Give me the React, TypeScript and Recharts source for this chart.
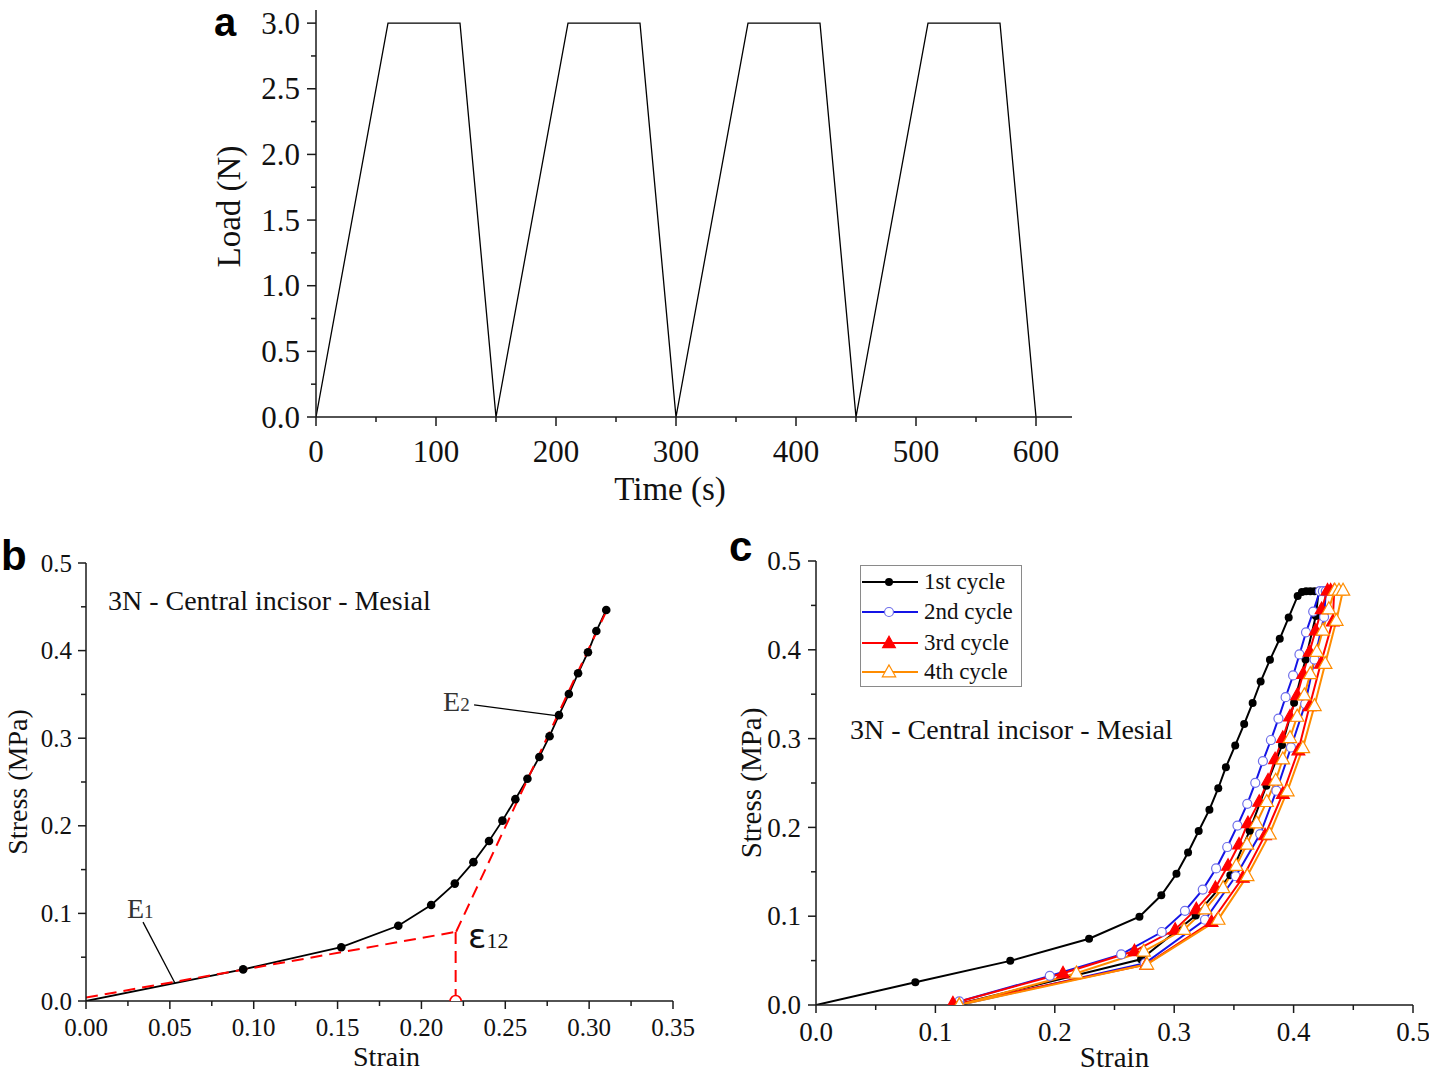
import React from 'react';
import { LineChart, Line, XAxis, YAxis, ReferenceDot } from 'recharts';

// ---------- Panel a : load protocol ----------
const loadTime = [0, 60, 120, 150, 210, 270, 300, 360, 420, 450, 510, 570, 600];
const loadValue = [0, 3, 3, 0, 3, 3, 0, 3, 3, 0, 3, 3, 0];
const aTicksX = [0, 50, 100, 150, 200, 250, 300, 350, 400, 450, 500, 550, 600];
const aMajorX = [0, 100, 200, 300, 400, 500, 600];
const aTicksY = [0, 0.25, 0.5, 0.75, 1, 1.25, 1.5, 1.75, 2, 2.25, 2.5, 2.75, 3];
const aMajorY = [0, 0.5, 1, 1.5, 2, 2.5, 3];

// ---------- Panel b : single cycle with bilinear fit ----------
const bStrain = [0, 0.0937, 0.1522, 0.1862, 0.2058, 0.2199, 0.231, 0.2403, 0.2483, 0.256, 0.2632, 0.2703, 0.2764, 0.282, 0.2879, 0.2934, 0.2993, 0.3043, 0.3102];
const bStress = [0, 0.0361, 0.0614, 0.0859, 0.1096, 0.134, 0.1585, 0.1826, 0.2059, 0.2304, 0.2537, 0.2786, 0.3023, 0.3263, 0.3504, 0.3741, 0.3982, 0.4223, 0.4464];
const e1Strain = [0, 0.2204];
const e1Stress = [0.0039, 0.0789];
const e2Strain = [0.2207, 0.3095];
const e2Stress = [0.079, 0.442];
const eps12Strain = [0.2204, 0.2204];
const eps12Stress = [0.0789, 0];
const e1LeaderStrain = [0.034, 0.053];
const e1LeaderStress = [0.09, 0.0205];
const e2LeaderStrain = [0.2314, 0.2826];
const e2LeaderStress = [0.338, 0.3253];
const bTicksX = [0, 0.025, 0.05, 0.075, 0.1, 0.125, 0.15, 0.175, 0.2, 0.225, 0.25, 0.275, 0.3, 0.325, 0.35];
const bMajorX = [0, 0.05, 0.1, 0.15, 0.2, 0.25, 0.3, 0.35];
const sTicksY = [0, 0.05, 0.1, 0.15, 0.2, 0.25, 0.3, 0.35, 0.4, 0.45, 0.5];
const sMajorY = [0, 0.1, 0.2, 0.3, 0.4, 0.5];

// ---------- Panel c : four cycles ----------
const cycleNames = ['1st cycle', '2nd cycle', '3rd cycle', '4th cycle'];
const cycleColors = ['#000000', '#1414e6', '#ff0000', '#ff8c00'];
const c1Strain = [0, 0.0832, 0.1627, 0.2287, 0.2709, 0.2892, 0.3019, 0.3116, 0.3205, 0.3295, 0.3369, 0.3433, 0.3511, 0.3586, 0.3657, 0.3724, 0.3802, 0.3884, 0.3959, 0.4034, 0.407, 0.4105, 0.414, 0.4175, 0.421, 0.4186, 0.41, 0.4004, 0.3903, 0.3772, 0.3632, 0.347, 0.318, 0.2722, 0.1167];
const c1Stress = [0, 0.0256, 0.0497, 0.0746, 0.0995, 0.1236, 0.1477, 0.1718, 0.1959, 0.22, 0.2441, 0.2678, 0.2923, 0.3164, 0.3401, 0.3642, 0.3887, 0.4124, 0.4365, 0.4606, 0.465, 0.466, 0.466, 0.466, 0.466, 0.438, 0.389, 0.3405, 0.2927, 0.247, 0.1963, 0.146, 0.1007, 0.0515, 0];
const c2Strain = [0.12, 0.1958, 0.2556, 0.2896, 0.309, 0.3239, 0.3351, 0.3444, 0.353, 0.3612, 0.3679, 0.3743, 0.381, 0.3873, 0.3933, 0.3996, 0.4049, 0.4104, 0.4164, 0.422, 0.4245, 0.427, 0.4255, 0.4175, 0.4097, 0.3978, 0.3856, 0.372, 0.3515, 0.3258, 0.2755, 0.12];
const c2Stress = [0.004, 0.0328, 0.057, 0.0822, 0.106, 0.13, 0.1538, 0.1779, 0.202, 0.2265, 0.2502, 0.2747, 0.2984, 0.3225, 0.3466, 0.3711, 0.3948, 0.4197, 0.443, 0.466, 0.466, 0.466, 0.437, 0.389, 0.339, 0.29, 0.2413, 0.1925, 0.145, 0.096, 0.047, 0];
const c3Strain = [0.1147, 0.2069, 0.2667, 0.3008, 0.3185, 0.3345, 0.3451, 0.3543, 0.3618, 0.3712, 0.3786, 0.3845, 0.391, 0.397, 0.403, 0.408, 0.4134, 0.4185, 0.4235, 0.4284, 0.431, 0.434, 0.4328, 0.4228, 0.4134, 0.404, 0.391, 0.3761, 0.3575, 0.3313, 0.2765, 0.1147];
const c3Stress = [0.002, 0.0358, 0.0608, 0.085, 0.108, 0.132, 0.157, 0.181, 0.205, 0.229, 0.253, 0.277, 0.301, 0.325, 0.349, 0.373, 0.398, 0.422, 0.446, 0.467, 0.467, 0.467, 0.432, 0.3845, 0.3366, 0.2869, 0.238, 0.1913, 0.1435, 0.0937, 0.0455, 0];
const c4Strain = [0.12, 0.2181, 0.2745, 0.3083, 0.326, 0.341, 0.352, 0.361, 0.369, 0.3775, 0.385, 0.391, 0.397, 0.403, 0.409, 0.414, 0.4195, 0.4245, 0.4295, 0.4345, 0.438, 0.4414, 0.4358, 0.4265, 0.4175, 0.4078, 0.3948, 0.3799, 0.3612, 0.3369, 0.2772, 0.12];
const c4Stress = [0.0, 0.0358, 0.0605, 0.085, 0.108, 0.132, 0.157, 0.181, 0.205, 0.229, 0.253, 0.277, 0.301, 0.325, 0.349, 0.373, 0.398, 0.422, 0.446, 0.467, 0.467, 0.467, 0.433, 0.3845, 0.337, 0.2896, 0.241, 0.1924, 0.1454, 0.0964, 0.0459, 0];
const cTicksX = [0, 0.05, 0.1, 0.15, 0.2, 0.25, 0.3, 0.35, 0.4, 0.45, 0.5];
const cMajorX = [0, 0.1, 0.2, 0.3, 0.4, 0.5];

// ---------- helpers ----------
const SERIF = '"Liberation Serif", "Times New Roman", serif';
const SANS = '"Liberation Sans", Arial, sans-serif';
const AXIS = '#1a1a1a';

const pts = (xs: number[], ys: number[]) => xs.map((x, i) => ({ x, y: ys[i] }));

type TickCfg = {
  side: 'bottom' | 'left';
  majors: number[];
  digits: number;
  majorLen: number;
  minorLen: number;
  offset: number;
  fontSize: number;
};

function makeTick(cfg: TickCfg) {
  return (props: any) => {
    const { x, y, payload } = props;
    const v = payload.value as number;
    const major = cfg.majors.some((m) => Math.abs(m - v) < 1e-6);
    const len = major ? cfg.majorLen : cfg.minorLen;
    if (cfg.side === 'bottom') {
      return (
        <g>
          <line x1={x} y1={y} x2={x} y2={y + len} stroke={AXIS} strokeWidth={1.5} />
          {major && (
            <text x={x} y={y + cfg.offset} textAnchor="middle" fontSize={cfg.fontSize} fontFamily={SERIF} fill="#111">
              {v.toFixed(cfg.digits)}
            </text>
          )}
        </g>
      );
    }
    return (
      <g>
        <line x1={x} y1={y} x2={x - len} y2={y} stroke={AXIS} strokeWidth={1.5} />
        {major && (
          <text x={x - cfg.offset} y={y + cfg.fontSize * 0.34} textAnchor="end" fontSize={cfg.fontSize} fontFamily={SERIF} fill="#111">
            {v.toFixed(cfg.digits)}
          </text>
        )}
      </g>
    );
  };
}

const filledCircle = (r: number, skipFirst = false) => (p: any) => {
  if (p.cx == null || (skipFirst && p.index === 0)) return <g key={`d${p.index}`} />;
  return <circle key={`d${p.index}`} cx={p.cx} cy={p.cy} r={r} fill="#000" />;
};
const openCircle = (r: number, color: string) => (p: any) => {
  if (p.cx == null) return <g key={`d${p.index}`} />;
  return <circle key={`d${p.index}`} cx={p.cx} cy={p.cy} r={r} fill="#fff" stroke={color} strokeWidth={1.2} />;
};
const triPts = (cx: number, cy: number, s: number) =>
  `${cx},${cy - s * 0.62} ${cx - s * 0.58},${cy + s * 0.42} ${cx + s * 0.58},${cy + s * 0.42}`;
const triangle = (s: number, fill: string, stroke: string) => (p: any) => {
  if (p.cx == null) return <g key={`d${p.index}`} />;
  return <polygon key={`d${p.index}`} points={triPts(p.cx, p.cy, s)} fill={fill} stroke={stroke} strokeWidth={1.2} />;
};

const axisLabelStyle = (fs: number) => ({ fontSize: fs, fontFamily: SERIF, fill: '#111', textAnchor: 'middle' as const });

// ---------- Panel a ----------
function PanelA() {
  const data = pts(loadTime, loadValue);
  return (
    <LineChart width={900} height={520} margin={{ top: 10, right: 28, left: 0, bottom: 0 }}>
      <XAxis
        type="number"
        dataKey="x"
        domain={[0, 630]}
        ticks={aTicksX}
        interval={0}
        tickSize={0}
        tickMargin={0}
        tickLine={false}
        tick={makeTick({ side: 'bottom', majors: aMajorX, digits: 0, majorLen: 9, minorLen: 5, offset: 45, fontSize: 31 })}
        axisLine={{ stroke: AXIS, strokeWidth: 1.5 }}
        height={103}
        label={{ value: 'Time (s)', position: 'insideBottom', offset: 20, dx: -24, style: axisLabelStyle(33) }}
        allowDataOverflow
      />
      <YAxis
        type="number"
        domain={[0, 3.1]}
        ticks={aTicksY}
        interval={0}
        tickSize={0}
        tickMargin={0}
        tickLine={false}
        tick={makeTick({ side: 'left', majors: aMajorY, digits: 1, majorLen: 9, minorLen: 5, offset: 16, fontSize: 31 })}
        axisLine={{ stroke: AXIS, strokeWidth: 1.5 }}
        width={116}
        label={{ value: 'Load (N)', angle: -90, position: 'insideLeft', offset: 28, dy: -7, style: axisLabelStyle(33) }}
        allowDataOverflow
      />
      <Line data={data} dataKey="y" stroke="#000" strokeWidth={1.3} dot={false} isAnimationActive={false} />
    </LineChart>
  );
}

// ---------- Panel b ----------
function PanelB() {
  const black = pts(bStrain, bStress);
  return (
    <LineChart width={700} height={534} margin={{ top: 23, right: 27, left: 0, bottom: 0 }}>
      <XAxis
        type="number"
        dataKey="x"
        domain={[0, 0.35]}
        ticks={bTicksX}
        interval={0}
        tickSize={0}
        tickMargin={0}
        tickLine={false}
        tick={makeTick({ side: 'bottom', majors: bMajorX, digits: 2, majorLen: 8, minorLen: 5, offset: 35, fontSize: 25 })}
        axisLine={{ stroke: AXIS, strokeWidth: 1.5 }}
        height={73}
        label={{ value: 'Strain', position: 'insideBottom', offset: 8, dx: 7, style: axisLabelStyle(28) }}
        allowDataOverflow
      />
      <YAxis
        type="number"
        domain={[0, 0.5]}
        ticks={sTicksY}
        interval={0}
        tickSize={0}
        tickMargin={0}
        tickLine={false}
        tick={makeTick({ side: 'left', majors: sMajorY, digits: 1, majorLen: 8, minorLen: 5, offset: 14, fontSize: 25 })}
        axisLine={{ stroke: AXIS, strokeWidth: 1.5 }}
        width={86}
        label={{ value: 'Stress (MPa)', angle: -90, position: 'insideLeft', offset: 17, style: axisLabelStyle(28) }}
        allowDataOverflow
      />
      <Line data={pts(e1LeaderStrain, e1LeaderStress)} dataKey="y" stroke="#000" strokeWidth={1.3} dot={false} isAnimationActive={false} />
      <Line data={pts(e2LeaderStrain, e2LeaderStress)} dataKey="y" stroke="#000" strokeWidth={1.3} dot={false} isAnimationActive={false} />
      <Line data={black} dataKey="y" stroke="#000" strokeWidth={1.8} dot={filledCircle(4.3, true)} isAnimationActive={false} />
      <Line data={pts(e1Strain, e1Stress)} dataKey="y" stroke="#ff0000" strokeWidth={2} strokeDasharray="12 7" dot={false} isAnimationActive={false} />
      <Line data={pts(e2Strain, e2Stress)} dataKey="y" stroke="#ff0000" strokeWidth={2} strokeDasharray="12 7" dot={false} isAnimationActive={false} />
      <Line
        data={pts(eps12Strain, eps12Stress)}
        dataKey="y"
        stroke="#ff0000"
        strokeWidth={2}
        strokeDasharray="12 7"
        dot={(p: any) =>
          p.index === 1 ? (
            <circle key="eo" cx={p.cx} cy={p.cy} r={5.5} fill="#fff" stroke="#ff0000" strokeWidth={1.6} />
          ) : (
            <g key={`e${p.index}`} />
          )
        }
        isAnimationActive={false}
      />
      <ReferenceDot
        x={0.0131}
        y={0.4463}
        r={0}
        ifOverflow="visible"
        shape={(p: any) => (
          <text x={p.cx} y={p.cy} fontSize={28} fontFamily={SERIF} fill="#111">
            3N - Central incisor - Mesial
          </text>
        )}
      />
      <ReferenceDot
        x={0.0244}
        y={0.0947}
        r={0}
        ifOverflow="visible"
        shape={(p: any) => (
          <text x={p.cx} y={p.cy} fontSize={28} fontFamily={SERIF} fill="#333">
            E<tspan fontSize={19}>1</tspan>
          </text>
        )}
      />
      <ReferenceDot
        x={0.2129}
        y={0.331}
        r={0}
        ifOverflow="visible"
        shape={(p: any) => (
          <text x={p.cx} y={p.cy} fontSize={28} fontFamily={SERIF} fill="#333">
            E<tspan fontSize={19}>2</tspan>
          </text>
        )}
      />
      <ReferenceDot
        x={0.2278}
        y={0.0605}
        r={0}
        ifOverflow="visible"
        shape={(p: any) => (
          <text x={p.cx} y={p.cy} fill="#111">
            <tspan fontSize={34} fontFamily='"DejaVu Sans", sans-serif'>ε</tspan>
            <tspan fontSize={22} fontFamily={SERIF}>12</tspan>
          </text>
        )}
      />
    </LineChart>
  );
}

// ---------- Panel c ----------
const cycleData = [pts(c1Strain, c1Stress), pts(c2Strain, c2Stress), pts(c3Strain, c3Stress), pts(c4Strain, c4Stress)];
const cycleDots = [
  filledCircle(4, true),
  openCircle(4.5, '#6e6eea'),
  triangle(11, '#ff0000', '#ff0000'),
  triangle(11.5, '#ffffff', '#ff8c00'),
];

function PanelC() {
  return (
    <LineChart width={699} height={534} margin={{ top: 21, right: 16, left: 0, bottom: 0 }}>
      <XAxis
        type="number"
        dataKey="x"
        domain={[0, 0.5]}
        ticks={cTicksX}
        interval={0}
        tickSize={0}
        tickMargin={0}
        tickLine={false}
        tick={makeTick({ side: 'bottom', majors: cMajorX, digits: 1, majorLen: 8, minorLen: 5, offset: 36, fontSize: 27 })}
        axisLine={{ stroke: AXIS, strokeWidth: 1.5 }}
        height={69}
        label={{ value: 'Strain', position: 'insideBottom', offset: 7, style: axisLabelStyle(29) }}
        allowDataOverflow
      />
      <YAxis
        type="number"
        domain={[0, 0.5]}
        ticks={sTicksY}
        interval={0}
        tickSize={0}
        tickMargin={0}
        tickLine={false}
        tick={makeTick({ side: 'left', majors: sMajorY, digits: 1, majorLen: 8, minorLen: 5, offset: 15, fontSize: 27 })}
        axisLine={{ stroke: AXIS, strokeWidth: 1.5 }}
        width={86}
        label={{ value: 'Stress (MPa)', angle: -90, position: 'insideLeft', offset: 21, style: axisLabelStyle(29) }}
        allowDataOverflow
      />
      {cycleData.map((d, i) => (
        <Line
          key={cycleNames[i]}
          name={cycleNames[i]}
          data={d}
          dataKey="y"
          stroke={cycleColors[i]}
          strokeWidth={2}
          dot={cycleDots[i]}
          isAnimationActive={false}
        />
      ))}
      <ReferenceDot
        x={0.0285}
        y={0.3}
        r={0}
        ifOverflow="visible"
        shape={(p: any) => (
          <text x={p.cx} y={p.cy} fontSize={28} fontFamily={SERIF} fill="#111">
            3N - Central incisor - Mesial
          </text>
        )}
      />
    </LineChart>
  );
}

function LegendC() {
  const rowY = [17, 47, 78, 107];
  return (
    <div style={{ position: 'absolute', left: 860, top: 565, width: 162, height: 122, border: '1.5px solid #8a8a8a', boxSizing: 'border-box', background: '#fff' }}>
      <svg width={158} height={118} style={{ display: 'block', overflow: 'visible' }}>
        {cycleNames.map((n, i) => {
          const y = rowY[i] - 1;
          const dot = cycleDots[i]({ cx: 28, cy: y, index: i + 100 });
          return (
            <g key={n}>
              <line x1={1} y1={y} x2={57} y2={y} stroke={cycleColors[i]} strokeWidth={2} />
              {dot}
              <text x={63} y={y + 7} fontSize={23} fontFamily={SERIF} fill="#111">
                {n}
              </text>
            </g>
          );
        })}
      </svg>
    </div>
  );
}

export default function App() {
  return (
    <div style={{ position: 'absolute', left: 0, top: 0, width: 1429, height: 1074, background: '#fff', overflow: 'hidden' }}>
      <svg width={1429} height={1074} style={{ position: 'absolute', left: 0, top: 0 }}>
        <text x={214} y={36} fontSize={40} fontWeight="bold" fontFamily={SANS} fill="#000">a</text>
        <text x={1} y={570} fontSize={42} fontWeight="bold" fontFamily={SANS} fill="#000">b</text>
        <text x={729} y={561} fontSize={42} fontWeight="bold" fontFamily={SANS} fill="#000">c</text>
      </svg>
      <div style={{ position: 'absolute', left: 200, top: 0 }}>
        <PanelA />
      </div>
      <div style={{ position: 'absolute', left: 0, top: 540 }}>
        <PanelB />
      </div>
      <div style={{ position: 'absolute', left: 730, top: 540 }}>
        <PanelC />
      </div>
      <LegendC />
    </div>
  );
}
